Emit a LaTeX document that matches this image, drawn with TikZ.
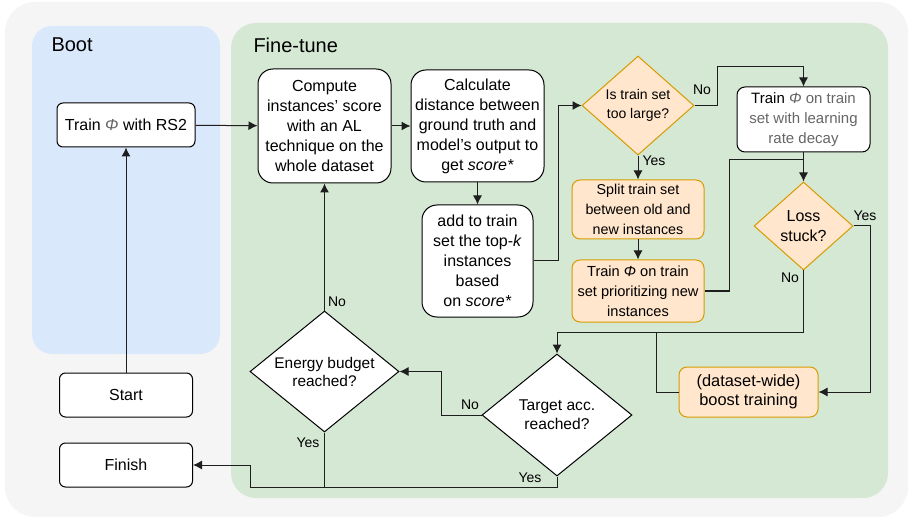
\documentclass[tikz,border=0pt]{standalone}
\usepackage{fontspec}
\setmainfont{Liberation Sans}
\usepackage{xcolor}
\usepackage{tikz}
\usetikzlibrary{shapes.geometric,arrows.meta}
\definecolor{outergrey}{HTML}{F5F5F5}
\definecolor{bootblue}{HTML}{DAE8FC}
\definecolor{tunegreen}{HTML}{D5E8D4}
\definecolor{orfill}{HTML}{FFE6CC}
\definecolor{orline}{HTML}{D79B00}
\definecolor{softtext}{HTML}{666666}
\definecolor{edge}{HTML}{1E1E1E}
\newcommand{\Ph}{\textit{Φ}}

\begin{document}
\begin{tikzpicture}[x=1pt,y=-1pt,>={Latex[length=9pt,width=9pt]},line width=1pt,
  font=\fontsize{16}{20}\selectfont,
  box/.style={draw,fill=white,rounded corners=6pt,align=center,inner sep=0pt},
  obox/.style={box,draw=orline,fill=orfill,rounded corners=8pt},
  dia/.style={draw,fill=white,diamond,align=center,inner sep=0pt},
  odia/.style={dia,draw=orline,fill=orfill},
  lbl/.style={font=\fontsize{14}{16}\selectfont,inner sep=0pt},
  conn/.style={draw=edge}]
			\useasboundingbox (0,0) rectangle (909,518);
			\fill[outergrey,rounded corners=30] (5,2) rectangle (908,517);
			\fill[bootblue,rounded corners=20] (32,26) rectangle (220,354);
			\fill[tunegreen,rounded corners=25] (231,23) rectangle (888,498);
			\node[anchor=west,inner sep=0pt,font=\fontsize{20}{24}\selectfont] (bootlbl) at (51,45) {Boot};
			\node[anchor=west,inner sep=0pt,font=\fontsize{20}{24}\selectfont] (tunelbl) at (253,45) {Fine-tune};
			%boot
			\node[box,minimum width=138,minimum height=44] (rs2) at (126,125) {Train \textcolor{softtext}{\Ph} with RS2};
			\node[box,minimum width=133,minimum height=44] (start) at (126,395) {Start};
			\node[box,minimum width=133,minimum height=44] (finish) at (126,465) {Finish};
			%fine-tune
			\node[box,rounded corners=15,minimum width=133,minimum height=114] (score) at (324.5,126) {Compute\\instances' score\\with an AL\\technique on the\\whole dataset};
			\node[box,rounded corners=15,minimum width=133,minimum height=112] (dist) at (477.5,126) {Calculate\\distance between\\ground truth and\\model's output to\\get \textit{score*}};
			\node[box,rounded corners=15,minimum width=111,minimum height=112] (topk) at (477.5,261) {add to train\\set the top-\textit{k}\\instances\\based\\on \textit{score*}};
			\node[odia,aspect=1.13,minimum width=112,minimum height=99,font=\fontsize{14}{19}\selectfont] (large) at (638,105.5) {Is train set\\too large?};
			\node[obox,minimum width=132,minimum height=59,font=\fontsize{14.3}{20}\selectfont] (split) at (638,209.5) {Split train set\\between old and\\new instances};
			\node[obox,minimum width=132,minimum height=62,font=\fontsize{14.6}{20}\selectfont] (prio) at (638,291) {Train \Ph{} on train\\set prioritizing new\\instances};
			\node[box,rounded corners=8,minimum width=133,minimum height=65,font=\fontsize{15}{20}\selectfont] (decay) at (803.5,119.5) {Train \textcolor{softtext}{\Ph{} on train}\\\textcolor{softtext}{set with learning}\\\textcolor{softtext}{rate decay}};
			\node[odia,aspect=1.125,minimum width=99,minimum height=88] (stuck) at (803.5,226) {Loss\\stuck?};
			\node[obox,minimum width=139,minimum height=50,font=\fontsize{16.4}{19}\selectfont] (boost) at (748.5,392) {(dataset-wide)\\boost training};
			\node[dia,aspect=1.23,minimum width=150,minimum height=122,font=\fontsize{15.6}{19}\selectfont] (target) at (557,415) {Target acc.\\reached?};
			\node[dia,aspect=1.23,minimum width=149,minimum height=121,font=\fontsize{15.4}{18}\selectfont] (energy) at (324.5,371.5) {Energy budget\\reached?};
			%connectors
			\draw[conn,->] (start) -- (rs2);
			\draw[conn,->] (rs2) -- (score);
			\draw[conn,->] (score) -- (dist);
			\draw[conn,->] (dist) -- (topk);
			\draw[conn,->] (topk.east) -- ++(25,0) |- (large.west);
			\draw[conn,->] (large.east) -| (717,67) -| (decay.north);
			\node[lbl] (nolarge) at (702,90) {No};
			\draw[conn,->] (large) -- (split);
			\node[lbl,anchor=west] (yeslarge) at (642,161) {Yes};
			\draw[conn,->] (split) -- (prio);
			\draw[conn,->] (decay) -- (stuck);
			\draw[conn] (prio.east) -| (729,160) -- (803.5,160);
			\draw[conn,->] (stuck.east) -- ++(17,0) |- (boost.east);
			\node[lbl] (yesstuck) at (865,216) {Yes};
			\draw[conn,->] (stuck.south) |- (557,332) -- (target.north);
			\node[lbl] (nostuck) at (790,278) {No};
			\draw[conn] (boost.west) -| (656,332);
			\draw[conn,->] (target.west) -| (441,371.5) -- (energy.east);
			\node[lbl] (notarget) at (470,405) {No};
			\draw[conn,->] (target.south) |- (250,487) |- (finish.east);
			\node[lbl] (yestarget) at (530,478) {Yes};
			\draw[conn] (energy.south) -- (324.5,487);
			\node[lbl] (yesenergy) at (308,443) {Yes};
			\draw[conn,->] (energy.north) -- (score.south);
			\node[lbl] (noenergy) at (337,302) {No};
		\end{tikzpicture}
\end{document}
